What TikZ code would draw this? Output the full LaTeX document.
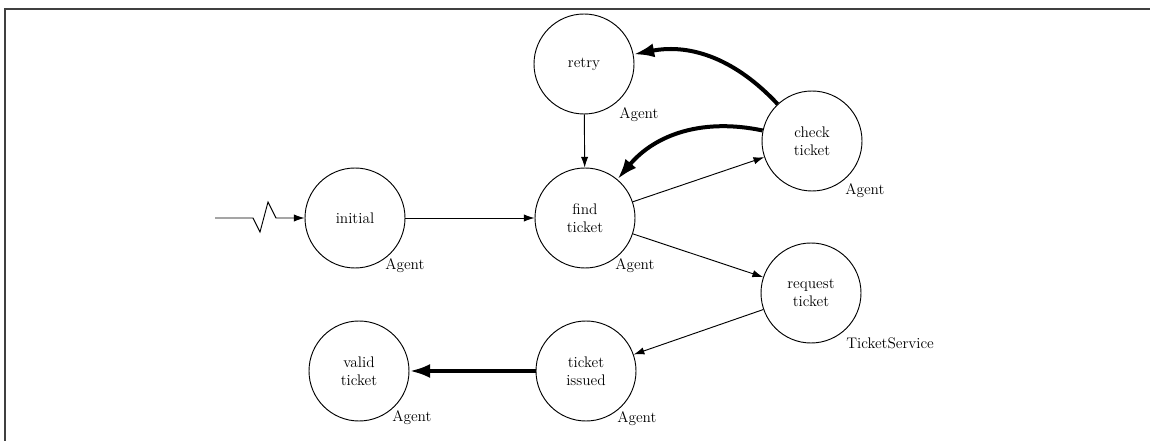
\documentclass[tikz,border=0pt]{standalone}
\usetikzlibrary{arrows.meta}
\begin{document}
\begin{tikzpicture}[
  x=0.75pt, y=0.75pt,
  state/.style={circle, draw, line width=0.7pt, minimum size=75pt, inner sep=0pt,
                align=center, font=\fontsize{11.5}{13.5}\selectfont},
  role/.style={anchor=west, inner sep=0pt, font=\fontsize{11.5}{13}\selectfont},
  thin arrow/.style={line width=0.7pt, -{Latex[length=8pt,width=5.5pt]}},
  thick arrow/.style={line width=3pt, -{Latex[length=15.5pt,width=10.5pt]}}
]
\useasboundingbox (0,0) rectangle (1150,-441);
% frame
\draw[line width=1.2pt, black!75] (5,-441) -- (5,-9) -- (1150,-9);

% states
\node[state] (initial) at (355,-218) {initial};
\node[state] (find)    at (585,-218) {find\\ticket};
\node[state] (retry)   at (584,-64)  {retry};
\node[state] (check)   at (812,-141) {check\\ticket};
\node[state] (request) at (811,-293) {request\\ticket};
\node[state] (issued)  at (586,-371) {ticket\\issued};
\node[state] (valid)   at (359,-371) {valid\\ticket};

% roles
\node[role] (initial-role) at ([shift={(30,-48)}]initial.center) {Agent};
\node[role] (find-role)    at ([shift={(30,-48)}]find.center) {Agent};
\node[role] (retry-role)   at ([shift={(35,-51)}]retry.center) {Agent};
\node[role] (check-role)   at ([shift={(33,-50)}]check.center) {Agent};
\node[role] (request-role) at ([shift={(35,-50)}]request.center) {TicketService};
\node[role] (issued-role)  at ([shift={(31,-48)}]issued.center) {Agent};
\node[role] (valid-role)   at ([shift={(33,-47)}]valid.center) {Agent};

% entry
\coordinate (start) at (215,-218);
\draw[thin arrow] (start) -- (253,-218) -- (260,-232) -- (268,-202) -- (276,-218) -- (initial);

% transitions
\draw[thin arrow] (initial) -- (find);
\draw[thin arrow] (retry) -- (find);
\draw[thin arrow] (find) -- (check);
\draw[thin arrow] (find) -- (request);
\draw[thin arrow] (request) -- (issued);
\draw[thick arrow] (check) to[out=168, in=50] (find);
\draw[thick arrow] (check) to[out=133, in=11] (retry);
\draw[thick arrow] (issued) -- (valid);
\end{tikzpicture}
\end{document}
